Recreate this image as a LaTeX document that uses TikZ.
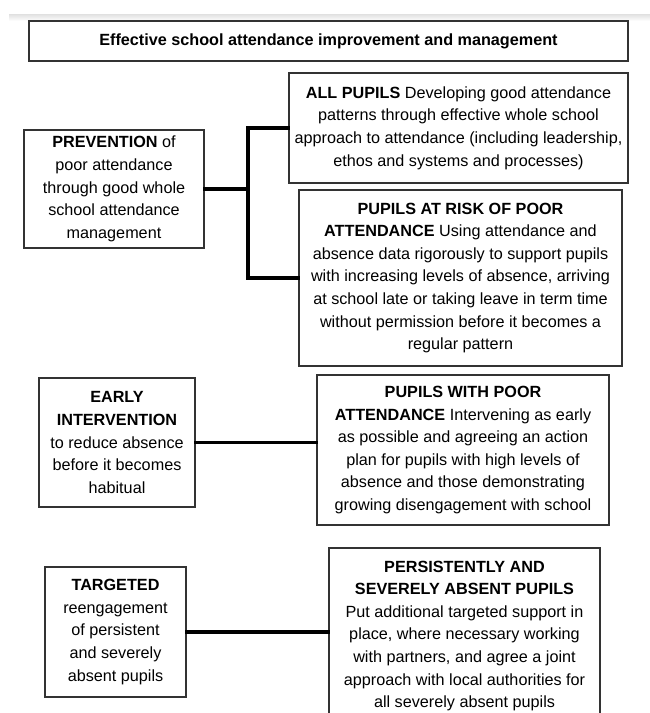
\documentclass[tikz,border=0pt]{standalone}
\usepackage{fontspec}
\setmainfont{Liberation Sans}
\usetikzlibrary{calc}
\tikzset{
	box/.style={draw=black!80, line width=1.3pt, align=center, inner sep=0pt,
		font=\fontsize{16.2}{22.6}\selectfont},
	link/.style={line width=3.2pt, line cap=rect}
}

\begin{document}
\begin{tikzpicture}[x=1pt, y=-1pt]
			%%%%% START %%%%%
			\useasboundingbox (0, 0) rectangle (650, 713);
			
			\shade[top color=black!12, bottom color=white] (9, 14) rectangle (650, 21);
			
			\node[box, minimum width=599, minimum height=40] (title) at (328.5, 41)
				{\textbf{Effective school attendance improvement and management}};
			
			\node[box, minimum width=180, minimum height=118] (prev) at (114, 189)
				{\textbf{PREVENTION} of\\poor attendance\\through good whole\\school attendance\\management};
			\node[box, minimum width=339, minimum height=110] (all) at (458.5, 128)
				{\textbf{ALL PUPILS} Developing good attendance\\patterns through effective whole school\\approach to attendance (including leadership,\\ethos and systems and processes)};
			\node[box, minimum width=323, minimum height=176] (risk) at (460.5, 278)
				{\textbf{PUPILS AT RISK OF POOR}\\\textbf{ATTENDANCE} Using attendance and\\absence data rigorously to support pupils\\with increasing levels of absence, arriving\\at school late or taking leave in term time\\without permission before it becomes a\\regular pattern};
			
			\coordinate (fork) at (248, 189);
			\draw[link] (prev.east) -- (fork);
			\draw[link] (all.west) -| (fork) |- (risk.west);
			
			\node[box, minimum width=156, minimum height=129] (early) at (117, 442.5)
				{\textbf{EARLY}\\\textbf{INTERVENTION}\\to reduce absence\\before it becomes\\habitual};
			\node[box, minimum width=292, minimum height=150] (poor) at (463, 450)
				{\textbf{PUPILS WITH POOR}\\\textbf{ATTENDANCE} Intervening as early\\as possible and agreeing an action\\plan for pupils with high levels of\\absence and those demonstrating\\growing disengagement with school};
			\draw[link] (early.east) -- (early.east -| poor.west);
			
			\node[box, minimum width=141, minimum height=130] (targ) at (115.5, 632)
				{\textbf{TARGETED}\\reengagement\\of persistent\\and severely\\absent pupils};
			\node[box, minimum width=271, minimum height=176] (pers) at (464.5, 636)
				{\textbf{PERSISTENTLY AND}\\\textbf{SEVERELY ABSENT PUPILS}\\Put additional targeted support in\\place, where necessary working\\with partners, and agree a joint\\approach with local authorities for\\all severely absent pupils};
			\draw[link] (targ.east) -- (targ.east -| pers.west);
			
			%%%%% END %%%%%
\end{tikzpicture}
\end{document}
